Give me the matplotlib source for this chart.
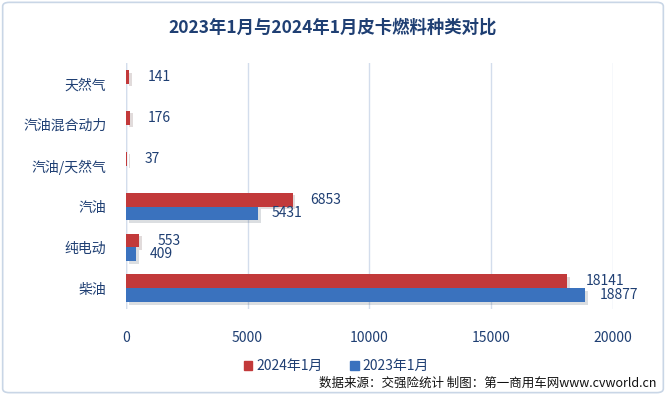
import numpy as np
import matplotlib
matplotlib.use('Agg')
from matplotlib import pyplot as plt
from matplotlib import patheffects as pe
from matplotlib.patches import FancyBboxPatch, Patch

plt.rcParams['font.family'] = ['Noto Sans CJK SC', 'DejaVu Sans']

categories = ['柴油', '纯电动', '汽油', '汽油/天然气', '汽油混合动力', '天然气']
jan_2024 = [18141, 553, 6853, 37, 176, 141]
jan_2023 = [18877, 409, 5431, 0, 0, 0]
ticks = [0, 5000, 10000, 15000, 20000]

txt = '#1F3F73'
red = '#C2393A'
blue = '#3A72BE'

fig = plt.figure(figsize=(6.66, 3.95), dpi=100)
fig.patches.append(FancyBboxPatch((0.004, 0.006), 0.992, 0.988,
                                  boxstyle='round,pad=0,rounding_size=0.01',
                                  transform=fig.transFigure, fill=False,
                                  edgecolor='#C9D6E6', linewidth=1.2))
ax = fig.add_axes([0.189, 0.218, 0.731, 0.622])

y = np.arange(len(categories))
h = 0.34
shadow = [pe.SimplePatchShadow(offset=(2, -2), alpha=0.15), pe.Normal()]
b1 = ax.barh(y + h / 2, jan_2024, height=h, color=red, zorder=3)
b2 = ax.barh(y - h / 2, jan_2023, height=h, color=blue, zorder=3)
for b in list(b1) + list(b2):
    b.set_path_effects(shadow)

for yi, v in zip(y, jan_2024):
    ax.annotate(str(v), (v, yi + h / 2), xytext=(13, 0), textcoords='offset points',
                va='center', ha='left', fontsize=10, color=txt)
for yi, v in zip(y, jan_2023):
    if v > 0:
        ax.annotate(str(v), (v, yi - h / 2), xytext=(10, 0), textcoords='offset points',
                    va='center', ha='left', fontsize=10, color=txt)

ax.set_xlim(0, 20000)
ax.set_ylim(-0.5, len(categories) - 0.5)
ax.set_xticks(ticks)
ax.set_xticklabels([str(t) for t in ticks], fontsize=10, color=txt)
ax.set_yticks(y)
ax.set_yticklabels(categories, fontsize=10, color=txt)
ax.tick_params(axis='both', length=0)
ax.tick_params(axis='x', pad=16)
ax.tick_params(axis='y', pad=14)
ax.grid(axis='x', color='#D3DDEC', linewidth=1, zorder=0)
for s in ax.spines.values():
    s.set_visible(False)
ax.axvline(0, color='#C9D6E6', linewidth=1, zorder=1)

fig.text(0.5, 0.93, '2023年1月与2024年1月皮卡燃料种类对比', ha='center', va='center',
         fontsize=12.5, fontweight='bold', color='#1F3F73')

handles = [Patch(color=red, label='2024年1月'), Patch(color=blue, label='2023年1月')]
fig.legend(handles=handles, loc='center', bbox_to_anchor=(0.505, 0.073), ncol=2,
           frameon=False, fontsize=10, handlelength=0.6, handleheight=0.6,
           columnspacing=2.0, handletextpad=0.3, labelcolor=txt)
fig.text(0.985, 0.03, '数据来源：交强险统计 制图：第一商用车网www.cvworld.cn', ha='right',
         va='center', fontsize=9, color='#111111')

fig.savefig('out.png', dpi=100)
